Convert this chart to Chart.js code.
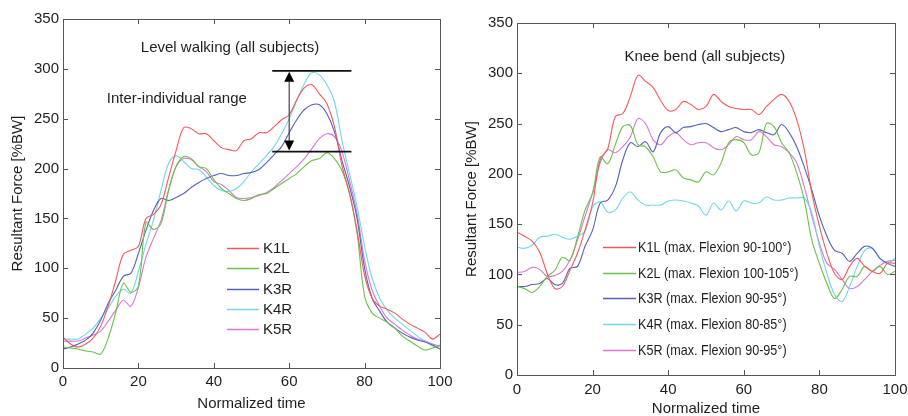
<!DOCTYPE html>
<html>
<head>
<meta charset="utf-8">
<script src="https://cdn.jsdelivr.net/npm/chart.js@4.4.0/dist/chart.umd.min.js"></script>
<style>
html, body { margin: 0; padding: 0; background: #fff; }
#wrap { position: relative; width: 908px; height: 416px; }
.half { position: absolute; top: 0; width: 454px; height: 416px; }
</style>
</head>
<body>
<div id="wrap">
  <div class="half" style="left:0"><canvas id="walk" width="454" height="416"></canvas></div>
  <div class="half" style="left:454px"><canvas id="bend" width="454" height="416"></canvas></div>
</div>
<script>
// normalized time, every 2 %
var times = [0,2,4,6,8,10,12,14,16,18,20,22,24,26,28,30,32,34,36,38,40,42,44,46,48,50,
             52,54,56,58,60,62,64,66,68,70,72,74,76,78,80,82,84,86,88,90,92,94,96,98,100];

// level walking, resultant force [%BW]
var walkK1L = [31,24,21,24,30,42,62,88,114,118,122,150,154,164,191,218,241,
               240,235,235,228,221,219,218,228,230,236,236,242,249,254,269,281,
               284,275,265,242,203,175,138,93,70,62,59,55,49,44,40,36,29,34];
var walkK2L = [21,20,19,17,16,14,30,56,85,76,82,146,139,145,178,202,212,
               210,202,200,189,180,175,170,168,170,174,175,180,185,190,195,202,
               208,210,216,210,198,175,135,72,55,50,46,40,32,27,22,18,20,23];
var walkK3R = [19,21,24,28,35,48,65,78,92,95,115,138,158,170,168,171,175,
               181,186,190,193,195,193,193,195,196,199,206,214,222,236,249,259,
               264,264,255,237,208,182,150,100,70,57,46,40,35,31,28,26,23,19];
var walkK4R = [29,29,29,34,40,50,60,72,79,75,97,124,148,178,205,213,207,
               200,199,192,183,178,177,180,187,197,205,213,222,235,250,268,285,
               296,294,284,267,228,195,162,122,90,70,58,50,44,38,32,27,22,21];
var walkK5R = [27,27,27,30,33,37,47,58,68,62,81,111,130,148,178,202,210,
               209,202,197,187,184,178,171,170,171,173,176,181,188,195,202,210,
               220,230,235,232,217,188,155,108,78,62,50,44,38,33,29,27,24,22];

// knee bend, resultant force [%BW]
var bendK1L = [142,138,133,122,101,86,88,104,121,144,171,214,225,257,260,277,298,
               292,286,273,263,264,272,269,264,267,279,272,267,265,264,264,259,
               267,274,279,272,254,224,181,148,121,101,95,108,116,108,103,101,111,111];
var bendK2L = [88,86,82,88,98,104,117,114,137,164,181,217,210,229,247,248,229,
               227,217,202,202,204,196,194,192,202,199,211,231,234,231,219,221,
               250,247,231,221,201,174,134,111,91,76,85,98,98,108,103,108,100,103];
var bendK3R = [88,88,90,91,96,90,91,106,108,128,144,171,174,187,214,231,227,
               232,222,241,247,241,246,247,249,250,246,242,244,246,242,241,244,
               241,239,249,241,227,207,184,158,138,124,121,113,121,128,126,116,111,108];
var bendK4R = [127,126,129,137,138,140,137,135,138,143,167,172,162,164,176,182,174,
               169,169,169,173,174,173,171,168,159,171,164,173,163,173,171,171,
               177,174,174,176,176,176,161,128,101,80,73,88,108,124,126,116,111,116];
var bendK5R = [102,103,107,105,98,99,103,114,134,158,181,211,224,221,227,237,255,
               250,234,229,237,241,234,229,231,231,226,224,229,237,234,234,242,
               237,229,227,221,211,187,158,131,111,105,95,86,88,95,103,109,113,114];

var walkNames = ['K1L', 'K2L', 'K3R', 'K4R', 'K5R'];
var bendNames = ['K1L (max. Flexion 90-100°)', 'K2L (max. Flexion 100-105°)', 'K3R (max. Flexion 90-95°)',
                 'K4R (max. Flexion 80-85°)', 'K5R (max. Flexion 90-95°)'];
var colors = ['#f25a5a', '#6cc04a', '#5560b8', '#72d6e8', '#d878d4'];

// inter-individual range marker (left plot)
var rangeX = [55.5, 76.5];
var rangeY = [298, 217];
var arrowX = 60;

var FONT = '"Liberation Sans", Arial, sans-serif';
var TXT = '#1e1e1e';

var framePlugin = {
  id: 'frame',
  afterDraw: function(chart, args, opts) {
    var c = chart.ctx, a = chart.chartArea, sx = chart.scales.x, sy = chart.scales.y;
    c.save();
    // box + inward ticks
    c.strokeStyle = '#555';
    c.lineWidth = 1;
    c.strokeRect(Math.round(a.left) + 0.5, Math.round(a.top) + 0.5, Math.round(a.right - a.left), Math.round(a.bottom - a.top));
    c.beginPath();
    sx.ticks.forEach(function(t) {
      var p = Math.round(sx.getPixelForValue(t.value)) + 0.5;
      c.moveTo(p, a.bottom); c.lineTo(p, a.bottom - 5);
      c.moveTo(p, a.top); c.lineTo(p, a.top + 5);
    });
    sy.ticks.forEach(function(t) {
      var p = Math.round(sy.getPixelForValue(t.value)) + 0.5;
      c.moveTo(a.left, p); c.lineTo(a.left + 5, p);
      c.moveTo(a.right, p); c.lineTo(a.right - 5, p);
    });
    c.stroke();

    // text labels inside plot
    c.fillStyle = TXT;
    c.font = '15px ' + FONT;
    c.textBaseline = 'middle';
    (opts.texts || []).forEach(function(t) {
      c.textAlign = t.align || 'center';
      c.fillText(t.text, sx.getPixelForValue(t.x), sy.getPixelForValue(t.y));
    });

    // legend
    var lg = opts.legend;
    if (lg) {
      lg.names.forEach(function(n, i) {
        var y = Math.round(a.top + lg.top + i * lg.step) + 0.5;
        c.strokeStyle = colors[i];
        c.lineWidth = 1.5;
        c.beginPath();
        c.moveTo(a.left + lg.x0, y); c.lineTo(a.left + lg.x1, y);
        c.stroke();
        c.textAlign = 'left';
        c.fillStyle = TXT;
        var w = c.measureText(n).width * (lg.squeeze || 1);
        c.fillText(n, a.left + lg.tx, y, w);
      });
    }

    // range marker
    if (opts.range) {
      var xa = sx.getPixelForValue(rangeX[0]), xb = sx.getPixelForValue(rangeX[1]);
      var ya = sy.getPixelForValue(rangeY[0]), yb = sy.getPixelForValue(rangeY[1]);
      var xm = sx.getPixelForValue(arrowX);
      c.strokeStyle = '#111';
      c.lineWidth = 1.6;
      c.beginPath();
      c.moveTo(xa, ya); c.lineTo(xb, ya);
      c.moveTo(xa, yb); c.lineTo(xb, yb);
      c.stroke();
      c.strokeStyle = '#444';
      c.lineWidth = 1.2;
      c.beginPath();
      c.moveTo(xm, ya + 8); c.lineTo(xm, yb - 8);
      c.stroke();
      c.fillStyle = '#000';
      c.beginPath();
      c.moveTo(xm, ya + 1); c.lineTo(xm - 5, ya + 11); c.lineTo(xm + 5, ya + 11); c.closePath();
      c.moveTo(xm, yb - 1); c.lineTo(xm - 5, yb - 11); c.lineTo(xm + 5, yb - 11); c.closePath();
      c.fill();
    }
    c.restore();
  }
};

function makeChart(id, series, names, lay, extra) {
  var datasets = series.map(function(s, i) {
    return {
      label: names[i],
      data: s.map(function(v, k) { return { x: times[k], y: v }; }),
      borderColor: colors[i],
      borderWidth: 1.1,
      pointRadius: 0,
      tension: 0.35,
      fill: false
    };
  });
  var tickFont = { family: FONT, size: 15 };
  var titleFont = { family: FONT, size: 15, lineHeight: 1 };
  return new Chart(document.getElementById(id), {
    type: 'line',
    data: { datasets: datasets },
    options: {
      responsive: false,
      animation: false,
      layout: { padding: { top: lay.top, right: lay.right, left: 0, bottom: 0 } },
      plugins: {
        legend: { display: false },
        tooltip: { enabled: false },
        frame: extra
      },
      scales: {
        x: {
          type: 'linear', min: 0, max: 100,
          ticks: { stepSize: 20, font: tickFont, color: TXT, padding: lay.xpad, maxRotation: 0 },
          grid: { display: false, drawTicks: false },
          border: { display: false },
          title: { display: true, text: 'Normalized time', font: titleFont, color: TXT, padding: { top: 0, bottom: lay.xtitle } },
          afterFit: function(s) { s.height = lay.xh; s.paddingLeft = 0; s.paddingRight = 0; }
        },
        y: {
          min: 0, max: 350,
          ticks: { stepSize: 50, font: tickFont, color: TXT, padding: 4 },
          grid: { display: false, drawTicks: false },
          border: { display: false },
          title: { display: true, text: 'Resultant Force [%BW]', font: titleFont, color: TXT, padding: { top: 10, bottom: 0 } },
          afterFit: function(s) { s.width = 63; s.paddingTop = 0; s.paddingBottom = 0; }
        }
      }
    },
    plugins: [framePlugin]
  });
}

makeChart('walk', [walkK1L, walkK2L, walkK3R, walkK4R, walkK5R], walkNames,
  { top: 19, right: 14, xh: 48, xpad: 5, xtitle: 5 },
  {
    texts: [
      { text: 'Level walking (all subjects)', x: 44.3, y: 321 },
      { text: 'Inter-individual range', x: 30.2, y: 270 }
    ],
    legend: { names: walkNames, top: 229, step: 20.3, x0: 164, x1: 196, tx: 200 },
    range: true
  });

makeChart('bend', [bendK1L, bendK2L, bendK3R, bendK4R, bendK5R], bendNames,
  { top: 23, right: 13, xh: 41, xpad: 6, xtitle: 0 },
  {
    texts: [
      { text: 'Knee bend (all subjects)', x: 49.7, y: 316 }
    ],
    legend: { names: bendNames, top: 224, step: 25.65, x0: 86, x1: 119, tx: 121, squeeze: 0.84 }
  });
</script>
</body>
</html>
